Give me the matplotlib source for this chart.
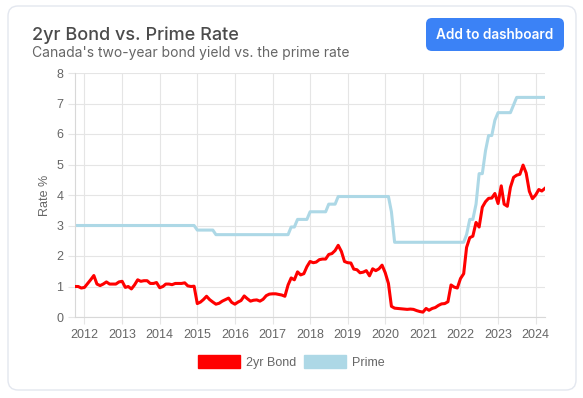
import matplotlib
matplotlib.use("Agg")
import matplotlib.pyplot as plt
import matplotlib.dates as mdates
import pandas as pd
from matplotlib.patches import FancyBboxPatch, Patch

# Monthly data, Oct 2011 -> Apr 2024
START = "2011-10-01"
END = "2024-04-01"

bond_2yr = [
    # 2011 Oct-Dec
    1.00, 1.00, 0.95,
    # 2012
    0.97, 1.10, 1.22, 1.36, 1.08, 1.03, 1.08, 1.15, 1.08, 1.08, 1.08, 1.15,
    # 2013
    1.17, 0.97, 1.00, 0.92, 1.05, 1.22, 1.17, 1.19, 1.19, 1.10, 1.10, 1.13,
    # 2014
    0.96, 1.00, 1.08, 1.08, 1.06, 1.10, 1.10, 1.10, 1.12, 1.02, 1.00, 1.01,
    # 2015
    0.44, 0.49, 0.57, 0.68, 0.57, 0.49, 0.42, 0.45, 0.52, 0.57, 0.62, 0.48,
    # 2016
    0.42, 0.49, 0.54, 0.69, 0.60, 0.52, 0.55, 0.56, 0.52, 0.58, 0.70, 0.75,
    # 2017
    0.76, 0.76, 0.74, 0.72, 0.68, 1.05, 1.28, 1.22, 1.48, 1.38, 1.42, 1.65,
    # 2018
    1.82, 1.78, 1.80, 1.88, 1.90, 1.90, 2.05, 2.08, 2.18, 2.35, 2.15, 1.82,
    # 2019
    1.78, 1.77, 1.57, 1.55, 1.45, 1.47, 1.52, 1.35, 1.58, 1.52, 1.58, 1.70,
    # 2020
    1.45, 1.10, 0.35, 0.29, 0.28, 0.27, 0.26, 0.25, 0.26, 0.25, 0.21, 0.18,
    # 2021
    0.16, 0.28, 0.22, 0.28, 0.31, 0.38, 0.43, 0.44, 0.50, 1.05, 0.98, 0.95,
    # 2022
    1.26, 1.42, 2.28, 2.60, 2.65, 3.10, 2.95, 3.60, 3.78, 3.89, 3.90, 4.05,
    # 2023
    3.72, 4.30, 3.70, 3.63, 4.25, 4.58, 4.65, 4.68, 4.98, 4.72, 4.12, 3.88,
    # 2024 Jan-Apr
    4.00, 4.18, 4.13, 4.22,
]

prime = (
    [3.00] * 3                                   # 2011 Oct-Dec
    + [3.00] * 36                                # 2012-2014
    + [2.85] * 6 + [2.70] * 6                    # 2015
    + [2.70] * 12                                # 2016
    + [2.70] * 6 + [2.95] * 2 + [3.20] * 4       # 2017
    + [3.45] * 6 + [3.70] * 3 + [3.95] * 3       # 2018
    + [3.95] * 12                                # 2019
    + [3.95] * 2 + [3.45] + [2.45] * 9           # 2020
    + [2.45] * 12                                # 2021
    + [2.45] * 2 + [2.70, 3.20, 3.20, 3.70, 4.70, 4.70, 5.45, 5.95, 5.95, 6.45]  # 2022
    + [6.70] * 5 + [6.95] + [7.20] * 6           # 2023
    + [7.20] * 4                                 # 2024
)

dates = pd.date_range(START, END, freq="MS")

W, H = 583, 398
TEXT = "#666666"
GRID = "#e5e5e5"

fig = plt.figure(figsize=(W / 100, H / 100), dpi=100)
fig.patch.set_facecolor("white")

# Card background, in pixel coordinates
bg = fig.add_axes([0, 0, 1, 1], zorder=-1)
bg.set_xlim(0, W)
bg.set_ylim(H, 0)
bg.axis("off")
bg.add_patch(FancyBboxPatch((8, 6), 568, 384, boxstyle="round,pad=0,rounding_size=10",
                            facecolor="white", edgecolor="#e3e7ef", linewidth=1.0))
bg.add_patch(FancyBboxPatch((426, 18), 138, 33, boxstyle="round,pad=0,rounding_size=6",
                            facecolor="#3b82f6", edgecolor="none"))
bg.text(495, 35, "Add to dashboard", color="white", fontsize=9.8, fontweight="semibold",
        family="Inter", ha="center", va="center")
bg.text(32, 35, "2yr Bond vs. Prime Rate", color="#4b4b4b", fontsize=13,
        fontweight="medium", family="Inter", ha="left", va="center")
bg.text(32, 53, "Canada's two-year bond yield vs. the prime rate", color=TEXT,
        fontsize=10, family="Inter", ha="left", va="center")

# Chart area
ax = fig.add_axes([75 / W, 1 - 317 / H, (545 - 75) / W, (317 - 73) / H])
ax.plot(dates, bond_2yr, color="#ff0000", linewidth=2.2, solid_joinstyle="round", zorder=3)
ax.plot(dates, prime, color="#add8e6", linewidth=2.2, solid_joinstyle="round", zorder=2)

ax.set_xlim(dates[0], dates[-1])
ax.set_ylim(0, 8)
ax.set_yticks(range(0, 9))
ax.xaxis.set_major_locator(mdates.YearLocator())
ax.xaxis.set_major_formatter(mdates.DateFormatter("%Y"))

ax.grid(True, color=GRID, linewidth=0.8)
ax.set_axisbelow(True)
for side in ("top", "right"):
    ax.spines[side].set_visible(False)
for side in ("left", "bottom"):
    ax.spines[side].set_color("#d8d8d8")
    ax.spines[side].set_linewidth(0.8)
ax.tick_params(colors=GRID, labelcolor=TEXT, length=5, width=0.8, labelsize=9)
for lab in ax.get_xticklabels() + ax.get_yticklabels():
    lab.set_family("Liberation Sans")
ax.set_ylabel("Rate %", color=TEXT, fontsize=9, family="Liberation Sans", labelpad=4)

handles = [Patch(facecolor="#ff0000", edgecolor="#ff0000", label="2yr Bond"),
           Patch(facecolor="#add8e6", edgecolor="#add8e6", label="Prime")]
leg = fig.legend(handles=handles, loc="center", bbox_to_anchor=(291 / W, 1 - 362 / H),
                 ncol=2, frameon=False, handlelength=3.4, handleheight=1.2,
                 handletextpad=0.45, columnspacing=0.6, prop={"family": "Liberation Sans", "size": 9})
for t in leg.get_texts():
    t.set_color(TEXT)

fig.savefig("out.png", dpi=100)
